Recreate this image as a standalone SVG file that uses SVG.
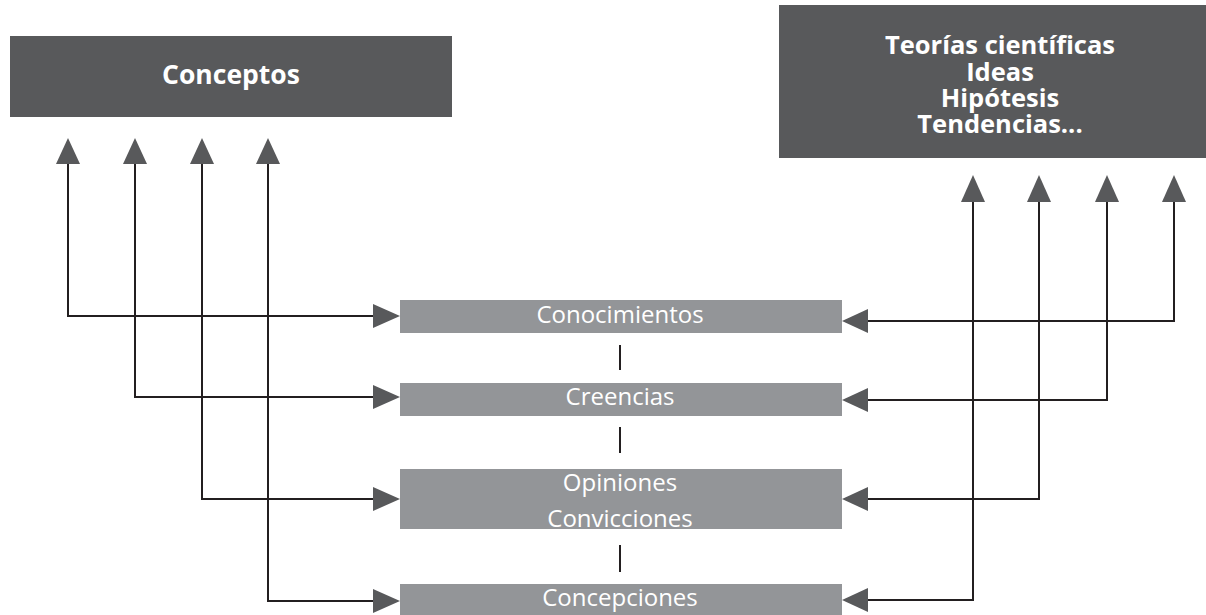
<svg xmlns="http://www.w3.org/2000/svg" width="1206" height="615" viewBox="0 0 1206 615">
<style>
.dark{fill:#58595b}
.light{fill:#939598}
.hd{font-family:"Open Sans","Liberation Sans",sans-serif;font-weight:bold;fill:#fff;text-anchor:middle}
.tx{font-family:"Open Sans","Liberation Sans",sans-serif;font-size:24px;fill:#fff;text-anchor:middle}
.ln{fill:none;stroke:#231f20;stroke-width:2}
.ah{fill:#58595b}
</style>
<rect width="1206" height="615" fill="#fff"/>
<g id="connectors">
  <path class="ln" d="M68,160 V316 H376"/>
  <path class="ln" d="M135,160 V397 H376"/>
  <path class="ln" d="M202,160 V499 H376"/>
  <path class="ln" d="M268,160 V601 H376"/>
  <path class="ln" d="M973,198 V600 H866"/>
  <path class="ln" d="M1039,198 V499 H866"/>
  <path class="ln" d="M1107,198 V400 H866"/>
  <path class="ln" d="M1174,198 V321 H866"/>
  <path class="ln" d="M620,345 V370 M620,427 V453 M620,545 V572"/>
  <polygon class="ah" points="68,138 56,164 80,164"/>
  <polygon class="ah" points="135,138 123,164 147,164"/>
  <polygon class="ah" points="202,138 190,164 214,164"/>
  <polygon class="ah" points="268,138 256,164 280,164"/>
  <polygon class="ah" points="973,175 961,202 985,202"/>
  <polygon class="ah" points="1039,175 1027,202 1051,202"/>
  <polygon class="ah" points="1107,175 1095,202 1119,202"/>
  <polygon class="ah" points="1174,175 1162,202 1186,202"/>
  <polygon class="ah" points="400,316 373,304 373,328"/>
  <polygon class="ah" points="400,397 373,385 373,409"/>
  <polygon class="ah" points="400,499 373,487 373,511"/>
  <polygon class="ah" points="400,601 373,589 373,613"/>
  <polygon class="ah" points="842,321 868,309 868,333"/>
  <polygon class="ah" points="842,400 868,388 868,412"/>
  <polygon class="ah" points="842,499 868,487 868,511"/>
  <polygon class="ah" points="842,600 868,588 868,612"/>
</g>
<g id="conceptos">
  <rect class="dark" x="10" y="36" width="442" height="81"/>
  <text class="hd" x="231" y="84" font-size="26.5">Conceptos</text>
</g>
<g id="teorias">
  <rect class="dark" x="779" y="5" width="427" height="153"/>
  <text class="hd" x="1000" y="54" font-size="25.5">Teorías científicas</text>
  <text class="hd" x="1000" y="81" font-size="25.5">Ideas</text>
  <text class="hd" x="1000" y="107" font-size="25.5">Hipótesis</text>
  <text class="hd" x="1000" y="133" font-size="25.5">Tendencias...</text>
</g>
<g id="conocimientos">
  <rect class="light" x="400" y="300" width="442" height="33"/>
  <text class="tx" x="620" y="323">Conocimientos</text>
</g>
<g id="creencias">
  <rect class="light" x="400" y="383" width="442" height="33"/>
  <text class="tx" x="620" y="405">Creencias</text>
</g>
<g id="opiniones">
  <rect class="light" x="400" y="469" width="442" height="60"/>
  <text class="tx" x="620" y="491">Opiniones</text>
  <text class="tx" x="620" y="527">Convicciones</text>
</g>
<g id="concepciones">
  <rect class="light" x="400" y="584" width="442" height="31"/>
  <text class="tx" x="620" y="606">Concepciones</text>
</g>
</svg>
